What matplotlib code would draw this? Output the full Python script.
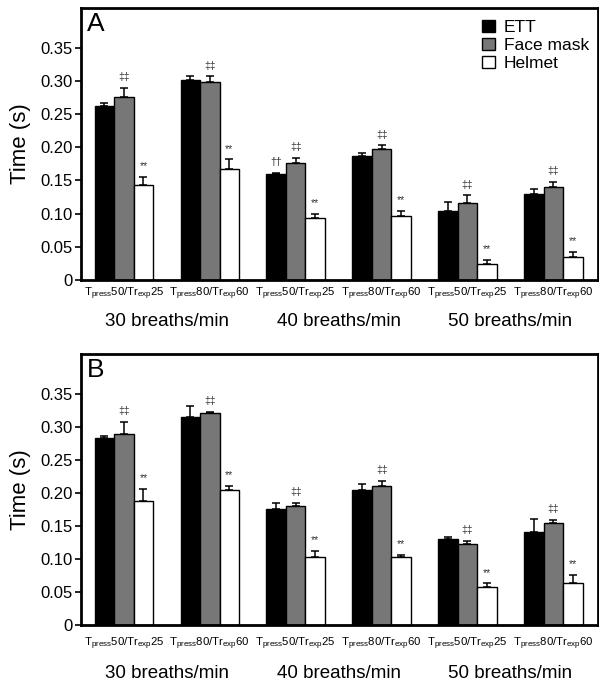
import matplotlib
matplotlib.use("Agg")
import matplotlib.pyplot as plt
import numpy as np
from matplotlib.ticker import FuncFormatter

plt.rcParams['font.family'] = ['Liberation Sans', 'DejaVu Sans']
plt.rcParams['mathtext.fontset'] = 'custom'
plt.rcParams['mathtext.rm'] = 'Liberation Sans'

tick_labels = [r'T$_{\rm press}$50/Tr$_{\rm exp}$25', r'T$_{\rm press}$80/Tr$_{\rm exp}$60'] * 3
group_labels = ['30 breaths/min', '40 breaths/min', '50 breaths/min']
series = ['ETT', 'Face mask', 'Helmet']
colors = ['#000000', '#777777', '#ffffff']

# Panel A
A_ett = [0.263, 0.301, 0.160, 0.187, 0.104, 0.130]
A_ett_err = [0.004, 0.007, 0.0016, 0.005, 0.014, 0.0075]
A_fm = [0.2756, 0.298, 0.1767, 0.197, 0.116, 0.1405]
A_fm_err = [0.0144, 0.009, 0.0073, 0.006, 0.012, 0.0075]
A_hel = [0.143, 0.167, 0.093, 0.0964, 0.0236, 0.0346]
A_hel_err = [0.013, 0.015, 0.007, 0.0076, 0.0064, 0.008]
A_ann_ett = ['', '', '††', '', '', '']
A_ann_fm = ['‡‡'] * 6
A_ann_hel = ['**'] * 6

# Panel B
B_ett = [0.2826, 0.315, 0.176, 0.205, 0.1295, 0.1405]
B_ett_err = [0.003, 0.016, 0.008, 0.009, 0.0035, 0.020]
B_fm = [0.289, 0.320, 0.1797, 0.211, 0.123, 0.154]
B_fm_err = [0.0187, 0.0028, 0.0053, 0.007, 0.0045, 0.0056]
B_hel = [0.1877, 0.204, 0.103, 0.1024, 0.0577, 0.0637]
B_hel_err = [0.0186, 0.007, 0.009, 0.004, 0.0055, 0.012]
B_ann_ett = [''] * 6
B_ann_fm = ['‡‡'] * 6
B_ann_hel = ['**'] * 6

fig = plt.figure(figsize=(5.99, 6.83), dpi=100)
axA = fig.add_axes([81/599, 1-280/683, 517/599, 272/683])
axB = fig.add_axes([81/599, 1-625/683, 517/599, 271/683])

width = 0.227
x = np.arange(6)

def draw(ax, ett, ette, fm, fme, hel, hele, aett, afm, ahel, letter, legend, tpad, gofs):
    vals = [ett, fm, hel]
    errs = [ette, fme, hele]
    anns = [aett, afm, ahel]
    for i in range(3):
        xi = x + (i - 1) * width
        ax.bar(xi, vals[i], width, color=colors[i], edgecolor='black', linewidth=1.0,
               label=series[i], zorder=2)
        ax.errorbar(xi, vals[i], yerr=[np.zeros(6), errs[i]], fmt='none', ecolor='black',
                    elinewidth=1.1, capsize=3, capthick=1.1, zorder=3)
        for j in range(6):
            if anns[i][j]:
                ax.annotate(anns[i][j], (xi[j], vals[i][j] + errs[i][j]), xytext=(0, 4),
                            textcoords='offset points', ha='center', va='bottom',
                            fontsize=7.5, color='#333333')
    ax.set_xlim(-0.5, 5.52)
    ax.set_ylim(0, 0.41)
    ax.set_yticks(np.arange(0, 0.351, 0.05))
    ax.yaxis.set_major_formatter(FuncFormatter(lambda v, p: '0' if abs(v) < 1e-9 else f'{v:.2f}'))
    ax.set_xticks(x)
    ax.set_xticklabels(tick_labels, fontsize=8.2)
    ax.tick_params(axis='x', length=0, pad=tpad)
    ax.tick_params(axis='y', labelsize=12, length=4, width=1.2, direction='out', pad=2)
    for s in ax.spines.values():
        s.set_linewidth(2)
    ax.set_ylabel('Time (s)', fontsize=16, labelpad=7)
    ax.text(0.012, 0.985, letter, transform=ax.transAxes, fontsize=19, ha='left', va='top')
    for k, g in enumerate(group_labels):
        ax.annotate(g, (2 * k + 0.5, 0), xycoords=('data', 'axes fraction'),
                    xytext=(0, gofs), textcoords='offset points', ha='center', va='top',
                    fontsize=13.5)
    if legend:
        ax.legend(loc='upper right', bbox_to_anchor=(0.995, 0.98), frameon=False,
                  fontsize=12.5, handlelength=0.75, handleheight=0.75, handletextpad=0.5,
                  labelspacing=0.15, borderaxespad=0.2, borderpad=0.15)

draw(axA, A_ett, A_ett_err, A_fm, A_fm_err, A_hel, A_hel_err, A_ann_ett, A_ann_fm, A_ann_hel, 'A', True, 4, -24)
draw(axB, B_ett, B_ett_err, B_fm, B_fm_err, B_hel, B_hel_err, B_ann_ett, B_ann_fm, B_ann_hel, 'B', False, 7.5, -29)

fig.savefig('out.png', dpi=100)
